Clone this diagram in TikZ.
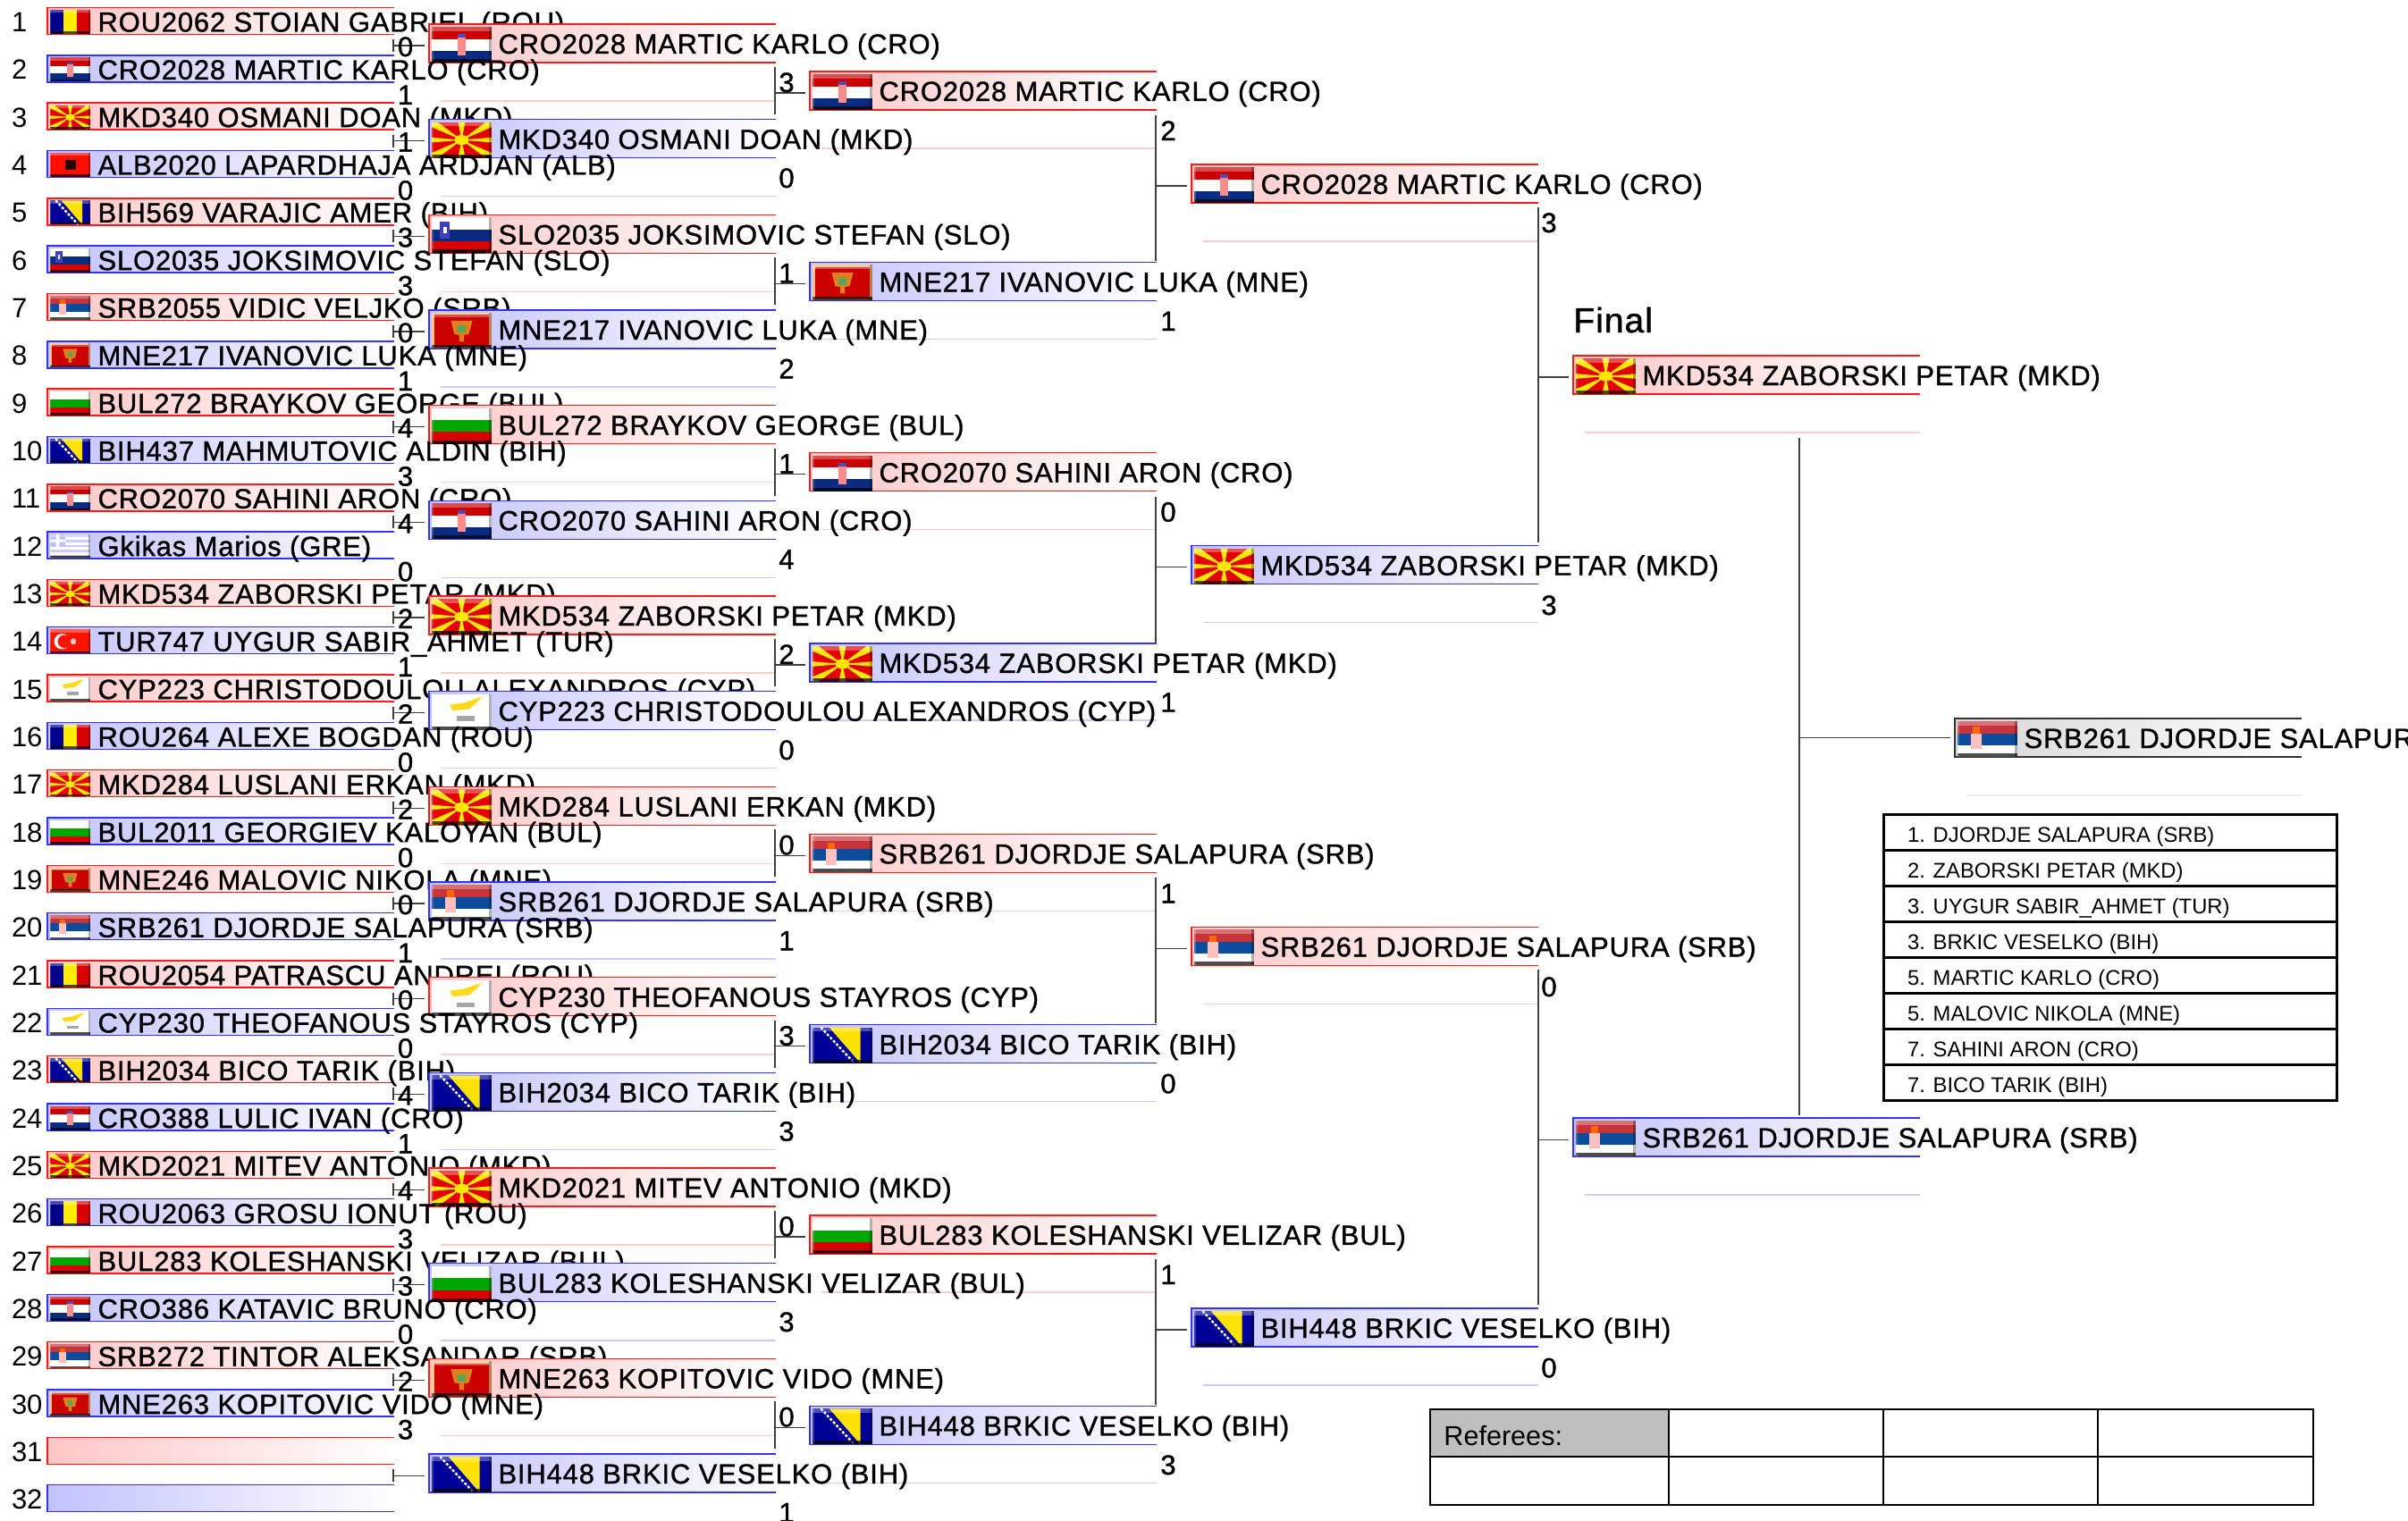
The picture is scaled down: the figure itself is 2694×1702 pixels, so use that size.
\documentclass[tikz,border=0pt]{standalone}
\usepackage{fontspec}
\setmainfont{Liberation Sans}
\newfontfamily\namefont{Liberation Sans}[LetterSpace=2.6,FakeBold=1.1]
\definecolor{boxred}{HTML}{FFC6C6}
\definecolor{boxblue}{HTML}{C2C2FF}
\definecolor{boxgray}{HTML}{D6D6D6}
\definecolor{palered}{HTML}{FFCCCC}
\definecolor{paleblue}{HTML}{CCCCFF}
\definecolor{palegray}{HTML}{EEEEEE}
\definecolor{fblau}{HTML}{0A2C80}
\definecolor{srbred}{HTML}{C8343C}
\definecolor{srbblue}{HTML}{0C4C9C}
\tikzset{
  boxnode/.style={inner sep=0pt,outer sep=0pt,minimum width=194pt},
  redshade/.style={left color=boxred,right color=white},
  blueshade/.style={left color=boxblue,right color=white},
  grayshade/.style={left color=boxgray,right color=white},
  redline/.style={draw=red!90!white,line width=0.7pt},
  blueline/.style={draw=blue!80!white,line width=0.7pt},
  grayline/.style={draw=black!80,line width=0.7pt},
  redpale/.style={draw=palered,line width=0.8pt},
  bluepale/.style={draw=paleblue,line width=0.8pt},
  graypale/.style={draw=palegray,line width=0.8pt},
  nametext/.style={inner sep=0pt,outer sep=0pt,font=\namefont\fontsize{15.5}{18}\selectfont,text=black},
  rownum/.style={inner sep=0pt,outer sep=0pt,font=\fontsize{15.5}{18}\selectfont,anchor=base west},
  scorenum/.style={inner sep=0pt,outer sep=0pt,font=\namefont\fontsize{15.5}{18}\selectfont,anchor=base},
  conn/.style={draw=black!75,line width=0.55pt},
  rankrule/.style={draw=black,line width=1.5pt},
  ranktext/.style={inner sep=0pt,outer sep=0pt,font=\fontsize{11.9}{14}\selectfont,anchor=base west},
  refrule/.style={draw=black,line width=1.4pt},
  refthin/.style={draw=black,line width=1pt},
}
% Flags, drawn in a unit square
\newcommand\flagROU{\fill[blue!55!black] (0,0) rectangle (.34,1);\fill[yellow!95!orange] (.34,0) rectangle (.67,1);\fill[red!85!black] (.67,0) rectangle (1,1);}
\newcommand\flagCRO{\fill[red!80!black] (0,0) rectangle (1,.34);\fill[white] (0,.34) rectangle (1,.67);\fill[fblau] (0,.67) rectangle (1,1);\fill[red!45!white] (.43,.28) rectangle (.57,.8);\fill[blue!40!gray] (.43,.2) rectangle (.57,.3);}
\newcommand\flagMKD{\fill[red!90!black] (0,0) rectangle (1,1);
  \fill[yellow!90!orange] (.5,.5)--(.44,0)--(.56,0)--cycle (.5,.5)--(.44,1)--(.56,1)--cycle (.5,.5)--(0,.43)--(0,.57)--cycle (.5,.5)--(1,.43)--(1,.57)--cycle
  (.5,.5)--(0,0)--(.1,0)--cycle (.5,.5)--(1,0)--(.9,0)--cycle (.5,.5)--(0,1)--(.1,1)--cycle (.5,.5)--(1,1)--(.9,1)--cycle
  (.5,.5)--(0,0)--(0,.14)--cycle (.5,.5)--(1,0)--(1,.14)--cycle (.5,.5)--(0,1)--(0,.86)--cycle (.5,.5)--(1,1)--(1,.86)--cycle;
  \fill[yellow!90!orange] (.5,.5) ellipse (.12 and .14);}
\newcommand\flagALB{\fill[red!90!orange] (0,0) rectangle (1,1);\fill[black!85!red] (.38,.3) rectangle (.64,.72);}
\newcommand\flagBIH{\fill[blue!60!black] (0,0) rectangle (1,1);\fill[yellow!85!orange] (.28,0)--(.8,0)--(.8,1)--cycle;\draw[white,line width=1.2pt,dash pattern=on 1.5pt off 1pt] (.14,0)--(.7,1);}
\newcommand\flagSLO{\fill[white] (0,0) rectangle (1,.34);\fill[fblau] (0,.34) rectangle (1,.67);\fill[red!85!black] (0,.67) rectangle (1,1);\fill[blue!50!gray] (.14,.12) rectangle (.3,.6);\fill[white] (.19,.26) rectangle (.25,.44);}
\newcommand\flagSRB{\fill[srbred] (0,0) rectangle (1,.34);\fill[srbblue] (0,.34) rectangle (1,.67);\fill[white] (0,.67) rectangle (1,1);\fill[white!75!red] (.23,.34) rectangle (.4,.78);\fill[orange!80!red] (.25,.16) rectangle (.38,.34);}
\newcommand\flagMNE{\fill[orange!55!white] (0,0) rectangle (1,1);\fill[red!80!black] (.04,.06) rectangle (.96,.94);\fill[orange!75!gray] (.32,.22)--(.68,.22)--(.62,.6)--(.54,.62)--(.54,.8)--(.46,.8)--(.46,.62)--(.38,.6)--cycle;\fill[gray!70!green] (.44,.36) rectangle (.56,.56);}
\newcommand\flagBUL{\fill[white] (0,0) rectangle (1,.34);\fill[green!65!black] (0,.34) rectangle (1,.67);\fill[red!85!black] (0,.67) rectangle (1,1);}
\newcommand\flagGRE{\fill[white] (0,0) rectangle (1,1);\foreach \s in {0,.22,.44,.66,.88}{\fill[blue!20!white] (0,\s) rectangle (1,\s+.11);}\fill[blue!25!white] (0,0) rectangle (.38,.55);\fill[white] (.15,0) rectangle (.23,.55) (0,.22) rectangle (.38,.33);}
\newcommand\flagTUR{\fill[red!85!orange] (0,0) rectangle (1,1);\fill[white] (.3,.5) ellipse (.2 and .32);\fill[red!85!orange] (.36,.5) ellipse (.17 and .27);\fill[white!80!red] (.58,.5) ellipse (.07 and .13);}
\newcommand\flagCYP{\fill[white] (0,0) rectangle (1,1);\fill[yellow!75!orange!90!white] (.3,.3)--(.55,.24)--(.85,.06)--(.75,.24)--(.62,.42)--(.35,.46)--cycle;\fill[gray!70] (.42,.62) rectangle (.72,.76);}
\newcommand\bevel{\fill[white,opacity=.3] (0,0) rectangle (1,.12);\fill[black,opacity=.7] (0,.9) rectangle (1,1);\fill[black,opacity=.3] (.96,0) rectangle (1,1);\fill[white,opacity=.2] (0,0) rectangle (.03,1);}
\newcommand\smallparams{\def\fdx{3}\def\fdy{2.5}\def\fw{45}\def\fh{27}\def\bh{30}\def\tdx{56.5}\def\tdy{27}}
\newcommand\largeparams{\def\fdx{3}\def\fdy{3}\def\fw{67}\def\fh{40}\def\bh{43}\def\tdx{77.5}\def\tdy{33}}
% name, x, top, kind, flag, text
\newcommand\entry[6]{%
  \node[boxnode,#4shade,minimum height=\bh*0.5pt,anchor=north west] (#1) at (#2,#3) {};
  \draw[#4line] (#1.north east) -- (#1.north west) -- (#1.south west) -- (#1.south east);
  \def\tmpflag{#5}%
  \ifx\tmpflag\empty\else
    \begin{scope}[shift={(#2+\fdx,#3+\fdy)},xscale=\fw,yscale=\fh]
      \csname flag#5\endcsname
      \bevel
    \end{scope}
    \node[nametext,anchor=base west] (#1t) at (#2+\tdx,#3+\tdy) {#6};
  \fi
}
% name, x, top, kind, flag, text with the pale line below
\newcommand\bigentry[6]{%
  \largeparams
  \coordinate (#1pa) at (#2+13,#3+86);
  \coordinate (#1pb) at (#2+388,#3+86);
  \draw[#4pale] (#1pa) -- (#1pb);
  \entry{#1}{#2}{#3}{#4}{#5}{#6}%
}
\newcommand\cola[3]{%
  \smallparams
  \pgfmathsetmacro\topy{8.5+53.33*(#1-1)}%
  \node[rownum] (n#1) at (13,\topy+27) {#1};
  \ifodd#1\relax\entry{a#1}{53}{\topy}{red}{#2}{#3}\else\entry{a#1}{53}{\topy}{blue}{#2}{#3}\fi
}
\newcommand\colb[3]{%
  \pgfmathsetmacro\topy{27+106.67*(#1-1)}%
  \ifodd#1\relax\bigentry{b#1}{480}{\topy}{red}{#2}{#3}\else\bigentry{b#1}{480}{\topy}{blue}{#2}{#3}\fi
}
\newcommand\colc[3]{%
  \pgfmathsetmacro\topy{80+213.33*(#1-1)}%
  \ifodd#1\relax\bigentry{c#1}{906}{\topy}{red}{#2}{#3}\else\bigentry{c#1}{906}{\topy}{blue}{#2}{#3}\fi
}
\newcommand\cold[3]{%
  \pgfmathsetmacro\topy{184+426.67*(#1-1)}%
  \ifodd#1\relax\bigentry{d#1}{1333}{\topy}{red}{#2}{#3}\else\bigentry{d#1}{1333}{\topy}{blue}{#2}{#3}\fi
}
% id, x, centre, up, down, target box
\newcommand\bracket[6]{%
  \coordinate (#1t) at (#2,#3-#4);
  \coordinate (#1b) at (#2,#3+#5);
  \coordinate (#1m) at (#2,#3);
  \draw[conn] (#1t) -- (#1b);
  \draw[conn,shorten >=2.5pt] (#1m) -- (#1m -| #6.west);
}
\begin{document}
\begin{tikzpicture}[x=0.5pt,y=-0.5pt]
\useasboundingbox (0,0) rectangle (2694,1702);
% final
\bigentry{e1}{1760}{398}{red}{MKD}{MKD534 ZABORSKI PETAR (MKD)}
\bigentry{e2}{1760}{1251}{blue}{SRB}{SRB261 DJORDJE SALAPURA (SRB)}
\bigentry{w}{2187}{804}{gray}{SRB}{SRB261 DJORDJE SALAPURA}
\node[inner sep=0pt,anchor=base west,font=\namefont\fontsize{19.5}{22}\selectfont] (finaltitle) at (1760,372) {Final};
% fourth column
\cold{1}{CRO}{CRO2028 MARTIC KARLO (CRO)}
\cold{2}{MKD}{MKD534 ZABORSKI PETAR (MKD)}
\cold{3}{SRB}{SRB261 DJORDJE SALAPURA (SRB)}
\cold{4}{BIH}{BIH448 BRKIC VESELKO (BIH)}
% third column
\colc{1}{CRO}{CRO2028 MARTIC KARLO (CRO)}
\colc{2}{MNE}{MNE217 IVANOVIC LUKA (MNE)}
\colc{3}{CRO}{CRO2070 SAHINI ARON (CRO)}
\colc{4}{MKD}{MKD534 ZABORSKI PETAR (MKD)}
\colc{5}{SRB}{SRB261 DJORDJE SALAPURA (SRB)}
\colc{6}{BIH}{BIH2034 BICO TARIK (BIH)}
\colc{7}{BUL}{BUL283 KOLESHANSKI VELIZAR (BUL)}
\colc{8}{BIH}{BIH448 BRKIC VESELKO (BIH)}
% first and second columns, in order from top to bottom
\cola{1}{ROU}{ROU2062 STOIAN GABRIEL (ROU)}
\colb{1}{CRO}{CRO2028 MARTIC KARLO (CRO)}
\cola{2}{CRO}{CRO2028 MARTIC KARLO (CRO)}
\cola{3}{MKD}{MKD340 OSMANI DOAN (MKD)}
\colb{2}{MKD}{MKD340 OSMANI DOAN (MKD)}
\cola{4}{ALB}{ALB2020 LAPARDHAJA ARDJAN (ALB)}
\cola{5}{BIH}{BIH569 VARAJIC AMER (BIH)}
\colb{3}{SLO}{SLO2035 JOKSIMOVIC STEFAN (SLO)}
\cola{6}{SLO}{SLO2035 JOKSIMOVIC STEFAN (SLO)}
\cola{7}{SRB}{SRB2055 VIDIC VELJKO (SRB)}
\colb{4}{MNE}{MNE217 IVANOVIC LUKA (MNE)}
\cola{8}{MNE}{MNE217 IVANOVIC LUKA (MNE)}
\cola{9}{BUL}{BUL272 BRAYKOV GEORGE (BUL)}
\colb{5}{BUL}{BUL272 BRAYKOV GEORGE (BUL)}
\cola{10}{BIH}{BIH437 MAHMUTOVIC ALDIN (BIH)}
\cola{11}{CRO}{CRO2070 SAHINI ARON (CRO)}
\colb{6}{CRO}{CRO2070 SAHINI ARON (CRO)}
\cola{12}{GRE}{Gkikas Marios (GRE)}
\cola{13}{MKD}{MKD534 ZABORSKI PETAR (MKD)}
\colb{7}{MKD}{MKD534 ZABORSKI PETAR (MKD)}
\cola{14}{TUR}{TUR747 UYGUR SABIR\_AHMET (TUR)}
\cola{15}{CYP}{CYP223 CHRISTODOULOU ALEXANDROS (CYP)}
\colb{8}{CYP}{CYP223 CHRISTODOULOU ALEXANDROS (CYP)}
\cola{16}{ROU}{ROU264 ALEXE BOGDAN (ROU)}
\cola{17}{MKD}{MKD284 LUSLANI ERKAN (MKD)}
\colb{9}{MKD}{MKD284 LUSLANI ERKAN (MKD)}
\cola{18}{BUL}{BUL2011 GEORGIEV KALOYAN (BUL)}
\cola{19}{MNE}{MNE246 MALOVIC NIKOLA (MNE)}
\colb{10}{SRB}{SRB261 DJORDJE SALAPURA (SRB)}
\cola{20}{SRB}{SRB261 DJORDJE SALAPURA (SRB)}
\cola{21}{ROU}{ROU2054 PATRASCU ANDREI (ROU)}
\colb{11}{CYP}{CYP230 THEOFANOUS STAYROS (CYP)}
\cola{22}{CYP}{CYP230 THEOFANOUS STAYROS (CYP)}
\cola{23}{BIH}{BIH2034 BICO TARIK (BIH)}
\colb{12}{BIH}{BIH2034 BICO TARIK (BIH)}
\cola{24}{CRO}{CRO388 LULIC IVAN (CRO)}
\cola{25}{MKD}{MKD2021 MITEV ANTONIO (MKD)}
\colb{13}{MKD}{MKD2021 MITEV ANTONIO (MKD)}
\cola{26}{ROU}{ROU2063 GROSU IONUT (ROU)}
\cola{27}{BUL}{BUL283 KOLESHANSKI VELIZAR (BUL)}
\colb{14}{BUL}{BUL283 KOLESHANSKI VELIZAR (BUL)}
\cola{28}{CRO}{CRO386 KATAVIC BRUNO (CRO)}
\cola{29}{SRB}{SRB272 TINTOR ALEKSANDAR (SRB)}
\colb{15}{MNE}{MNE263 KOPITOVIC VIDO (MNE)}
\cola{30}{MNE}{MNE263 KOPITOVIC VIDO (MNE)}
\cola{31}{}{}
\colb{16}{BIH}{BIH448 BRKIC VESELKO (BIH)}
\cola{32}{}{}
% connectors
\foreach \k [evaluate=\k as \cy using 51+106.67*(\k-1)] in {1,...,16}{
  \bracket{pa\k}{440}{\cy}{7}{7}{b\k}
}
\foreach \k [evaluate=\k as \cy using 104+213.33*(\k-1)] in {1,...,8}{
  \bracket{pb\k}{867}{\cy}{29}{24}{c\k}
}
\foreach \k [evaluate=\k as \cy using 208+426.67*(\k-1)] in {1,...,4}{
  \bracket{pc\k}{1293}{\cy}{79}{84}{d\k}
}
\foreach \k [evaluate=\k as \cy using 422+853.33*(\k-1)] in {1,2}{
  \bracket{pd\k}{1721}{\cy}{190}{185}{e\k}
}
\bracket{pe}{2013}{825.5}{336}{422}{w}
% scores
\foreach \p/\q [count=\k from 0] in {0/1,1/0,3/3,0/1,4/3,4/0,2/1,2/0,2/0,0/1,0/0,4/1,4/3,3/0,2/3}{
  \node[scorenum] (sat\k) at (453.6,63+106.67*\k) {\p};
  \node[scorenum] (sab\k) at (453.6,117+106.67*\k) {\q};
}
\foreach \p/\q [count=\k from 0] in {3/0,1/2,1/4,2/0,0/1,3/3,0/3,0/1}{
  \node[scorenum] (sbt\k) at (880,103+213.33*\k) {\p};
  \node[scorenum] (sbb\k) at (880,210+213.33*\k) {\q};
}
\foreach \p/\q [count=\k from 0] in {2/1,0/1,1/0,1/3}{
  \node[scorenum] (sct\k) at (1307,157+426.67*\k) {\p};
  \node[scorenum] (scb\k) at (1307,370+426.67*\k) {\q};
}
\foreach \p/\q [count=\k from 0] in {3/3,0/0}{
  \node[scorenum] (sdt\k) at (1733,260+855*\k) {\p};
  \node[scorenum] (sdb\k) at (1733,688+853.33*\k) {\q};
}
% ranking table
\draw[rankrule] (2107,911.5) rectangle (2614,1231.5);
\foreach \r in {1,...,7}{\draw[rankrule] (2107,911.5+40*\r) -- (2614,911.5+40*\r);}
\foreach \t [count=\r from 0] in {1. DJORDJE SALAPURA (SRB),2. ZABORSKI PETAR (MKD),3. UYGUR SABIR\_AHMET (TUR),3. BRKIC VESELKO (BIH),5. MARTIC KARLO (CRO),5. MALOVIC NIKOLA (MNE),7. SAHINI ARON (CRO),7. BICO TARIK (BIH)}{
  \node[ranktext] (rank\r) at (2134,942.5+40*\r) {\t};
}
% referees table
\fill[black!25] (1600,1577) rectangle (1866.5,1630);
\draw[refrule] (1600,1577) rectangle (2588,1684);
\draw[refrule] (1600,1630) -- (2588,1630);
\foreach \vx in {1866.5,2106.5,2347}{\draw[refthin] (\vx,1577) -- (\vx,1684);}
\node[inner sep=0pt,anchor=base west,font=\fontsize{15.3}{18}\selectfont] (referees) at (1615,1617) {Referees:};
\end{tikzpicture}
\end{document}
